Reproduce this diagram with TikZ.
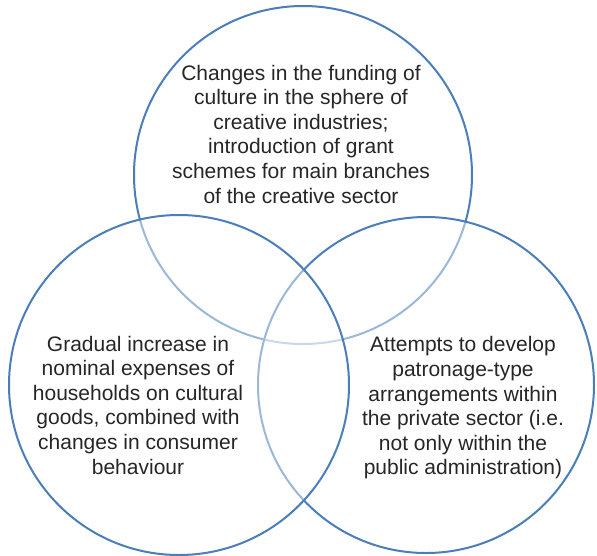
\documentclass[tikz,border=0pt]{standalone}
\usepackage{fontspec}
\setmainfont{Liberation Sans}
\definecolor{vennblue}{HTML}{4A7EBB}
\begin{document}
\begin{tikzpicture}[x=1pt,y=-1pt]
	\tikzset{venn/.style={draw=vennblue, line width=2pt, fill=white, fill opacity=0.45},
		label/.style={align=center, text=black!85, font=\fontsize{21}{24.6}\selectfont}}
	\useasboundingbox (0,0) rectangle (597,555);
	
	\coordinate (T) at (303,175);
	\coordinate (L) at (179,385);
	\coordinate (R) at (426,385);
	
	% later circles wash out the arcs underneath
	\draw[venn] (T) circle [radius=169pt];
	\draw[venn] (R) circle [radius=168pt];
	\draw[venn] (L) circle [radius=170pt];
	
	\node[label] (funding) at (301,134) {Changes in the funding of\\culture in the sphere of\\creative industries;\\introduction of grant\\schemes for main branches\\of the creative sector};
	\node[label] (households) at (138,405) {Gradual increase in\\nominal expenses of\\households on cultural\\goods, combined with\\changes in consumer\\behaviour};
	\node[label] (patronage) at (463,408) {Attempts to develop\\patronage-type\\arrangements within\\the private sector (i.e.\\not only within the\\public administration)};
	
\end{tikzpicture}
\end{document}
